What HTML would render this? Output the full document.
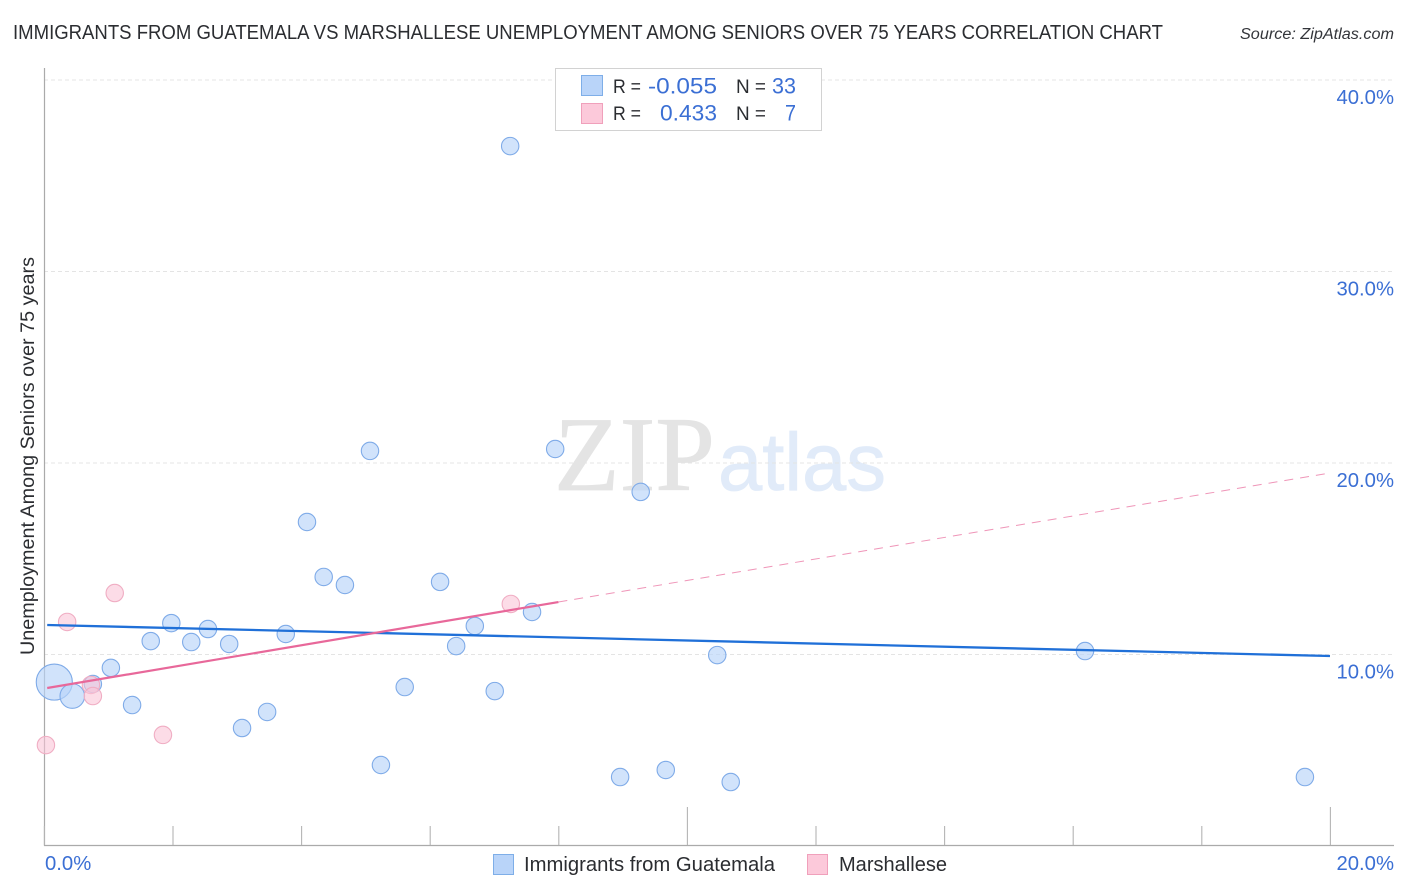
<!DOCTYPE html>
<html lang="en">
<head>
<meta charset="utf-8">
<title>Immigrants from Guatemala vs Marshallese Unemployment Correlation Chart</title>
<style>
html,body{margin:0;padding:0;background:#fff;width:1406px;height:892px;overflow:hidden}
svg{display:block;font-family:"Liberation Sans",sans-serif}
</style>
</head>
<body>
<svg id="chart" xmlns="http://www.w3.org/2000/svg" width="1406" height="892" viewBox="0 0 1406 892">
  <rect width="1406" height="892" fill="#ffffff"/>
  <text x="13" y="39" font-size="20" fill="#2b2d31" textLength="1150" lengthAdjust="spacingAndGlyphs">IMMIGRANTS FROM GUATEMALA VS MARSHALLESE UNEMPLOYMENT AMONG SENIORS OVER 75 YEARS CORRELATION CHART</text>
  <text x="1394" y="39" font-size="15.5" font-style="italic" fill="#33353a" text-anchor="end" textLength="154" lengthAdjust="spacingAndGlyphs">Source: ZipAtlas.com</text>
  <g>
    <text x="554" y="490" font-family="'Liberation Serif',serif" font-size="106" fill="#e4e4e4" stroke="#e4e4e4" stroke-width="0.8" textLength="161" lengthAdjust="spacingAndGlyphs">ZIP</text>
    <text x="718" y="490" font-size="82" fill="#e1ebf9" stroke="#e1ebf9" stroke-width="0.8" textLength="168" lengthAdjust="spacingAndGlyphs">atlas</text>
  </g>
  <g id="grid"></g>
  <g id="axes"></g>
  <g id="marks"></g>
  <text transform="translate(34 456) rotate(-90)" font-size="19" fill="#2b2d31" text-anchor="middle" textLength="398" lengthAdjust="spacingAndGlyphs">Unemployment Among Seniors over 75 years</text>
  <g>
    <rect x="555.5" y="68.5" width="266" height="62" fill="#ffffff" stroke="#d2d2d2"/>
    <rect x="581.5" y="75.5" width="21" height="20" fill="#b9d4f9" stroke="#7eaee8"/>
    <rect x="581.5" y="103.5" width="21" height="20" fill="#fcc9da" stroke="#f0a0bb"/>
    <g font-size="19" fill="#2b2d31">
      <text x="613" y="93" textLength="28" lengthAdjust="spacingAndGlyphs">R =</text>
      <text x="736" y="93" textLength="30" lengthAdjust="spacingAndGlyphs">N =</text>
      <text x="613" y="120" textLength="28" lengthAdjust="spacingAndGlyphs">R =</text>
      <text x="736" y="120" textLength="30" lengthAdjust="spacingAndGlyphs">N =</text>
    </g>
    <g font-size="22" fill="#3b6fd4">
      <text x="648" y="93.5" textLength="69" lengthAdjust="spacingAndGlyphs">-0.055</text>
      <text x="772" y="93.5" textLength="24" lengthAdjust="spacingAndGlyphs">33</text>
      <text x="660" y="120.5" textLength="57" lengthAdjust="spacingAndGlyphs">0.433</text>
      <text x="785" y="120.5" textLength="11" lengthAdjust="spacingAndGlyphs">7</text>
    </g>
  </g>
  <g>
    <rect x="493.5" y="854.5" width="20" height="20" fill="#b9d4f9" stroke="#7eaee8"/>
    <text x="524" y="871" font-size="20" fill="#2b2d31" textLength="251" lengthAdjust="spacingAndGlyphs">Immigrants from Guatemala</text>
    <rect x="807.5" y="854.5" width="20" height="20" fill="#fcc9da" stroke="#f0a0bb"/>
    <text x="839" y="871" font-size="20" fill="#2b2d31" textLength="108" lengthAdjust="spacingAndGlyphs">Marshallese</text>
  </g>
</svg>
<script>
const guatemalaX = [7.25,5.07,7.95,9.28,4.09,4.35,4.68,6.16,7.59,6.70,6.41,3.76,1.98,2.55,1.66,2.29,2.88,1.04,0.76,0.16,0.44,1.37,3.08,3.47,5.61,7.01,5.24,8.96,9.67,10.68,10.47,16.19,19.61];
const guatemalaY = [36.55,20.63,20.73,18.49,16.92,14.05,13.63,13.79,12.22,11.49,10.44,11.07,11.64,11.33,10.70,10.65,10.55,9.30,8.46,8.56,7.83,7.36,6.16,7.00,8.30,8.09,4.23,3.60,3.97,3.34,9.97,10.18,3.60];
const guatemalaWeight = [1,1,1,1,1,1,1,1,1,1,1,1,1,1,1,1,1,1,1,4.3,2,1,1,1,1,1,1,1,1,1,1,1,1];
const marshalleseX = [1.10,0.36,0.73,0.76,1.85,0.03,7.26];
const marshalleseY = [13.21,11.70,8.41,7.83,5.80,5.27,12.64];
const marshalleseWeight = [1,1,1,1,1,1,1];
const guatemalaTrendX = [0.05,20];
const guatemalaTrendY = [11.54,9.92];
const marshalleseTrendX = [0.05,8.0];
const marshalleseTrendY = [8.25,12.74];
const marshalleseDashX = [8.0,20];
const marshalleseDashY = [12.74,19.48];
const yTickValues = [10,20,30,40];
const yTickLabels = ['10.0%','20.0%','30.0%','40.0%'];
const xTickValues = [0,2,4,6,8,10,12,14,16,18,20];
const xMajorTicks = [10,20];
const xEndValues = [0,20];
const xEndLabels = ['0.0%','20.0%'];

const NS = 'http://www.w3.org/2000/svg';
const sx = v => 44 + v * 64.3;
const sy = v => 846 - v * 19.15;
const sr = w => 8.7 * Math.sqrt(w);

function make(tag, attrs, parent) {
  const el = document.createElementNS(NS, tag);
  for (const k in attrs) el.setAttribute(k, attrs[k]);
  parent.appendChild(el);
  return el;
}

const grid = document.getElementById('grid');
const axes = document.getElementById('axes');
const marks = document.getElementById('marks');

yTickValues.forEach((v, i) => {
  const line = make('line', {x1: 44, x2: 1394, y1: sy(v), y2: sy(v), stroke: '#e4e4e4', 'stroke-width': 1, 'stroke-dasharray': '4 3'}, grid);
  
  
  const label = make('text', {x: 1394, y: sy(v) + 24, 'font-size': 20.3, fill: '#3b6fd4', 'text-anchor': 'end'}, axes);
  
  
  label.textContent = yTickLabels[i];
});

const yAxis = make('line', {x1: 44.5, x2: 44.5, y1: 68, y2: 846, stroke: '#aaaaaa', 'stroke-width': 1.2}, axes);


const xAxis = make('line', {x1: 44, x2: 1394, y1: 845.5, y2: 845.5, stroke: '#aaaaaa', 'stroke-width': 1.2}, axes);



xTickValues.forEach(v => {
  const top = xMajorTicks.includes(v) ? 807 : 826;
  const tick = make('line', {x1: sx(v) + 0.4, x2: sx(v) + 0.4, y1: top, y2: 845, stroke: '#b4b4b4', 'stroke-width': 1.1}, axes);
  
  
});

xEndValues.forEach((v, i) => {
  const label = make('text', {x: i === 0 ? 45 : 1394, y: 870, 'font-size': 20.3, fill: '#3b6fd4', 'text-anchor': i === 0 ? 'start' : 'end'}, axes);
  
  
  label.textContent = xEndLabels[i];
});

guatemalaX.forEach((v, i) => {
  const c = make('circle', {cx: sx(v), cy: sy(guatemalaY[i]), r: sr(guatemalaWeight[i]), fill: '#b9d4f9', 'fill-opacity': 0.65, stroke: '#7fabe8', 'stroke-width': 1.1}, marks);
  
  
});

marshalleseX.forEach((v, i) => {
  const c = make('circle', {cx: sx(v), cy: sy(marshalleseY[i]), r: sr(marshalleseWeight[i]), fill: '#f9c3d5', 'fill-opacity': 0.58, stroke: '#f0adc3', 'stroke-width': 1.1}, marks);
  
  
});

const blueLine = make('line', {x1: sx(guatemalaTrendX[0]), y1: sy(guatemalaTrendY[0]), x2: sx(guatemalaTrendX[1]), y2: sy(guatemalaTrendY[1]), stroke: '#2070d8', 'stroke-width': 2.3}, marks);



const pinkLine = make('line', {x1: sx(marshalleseTrendX[0]), y1: sy(marshalleseTrendY[0]), x2: sx(marshalleseTrendX[1]), y2: sy(marshalleseTrendY[1]), stroke: '#e8689a', 'stroke-width': 2.2}, marks);



const pinkDash = make('line', {x1: sx(marshalleseDashX[0]), y1: sy(marshalleseDashY[0]), x2: sx(marshalleseDashX[1]), y2: sy(marshalleseDashY[1]), stroke: '#e8689a', 'stroke-width': 1, 'stroke-opacity': 0.7, 'stroke-dasharray': '9 7'}, marks);


</script>
</body>
</html>
